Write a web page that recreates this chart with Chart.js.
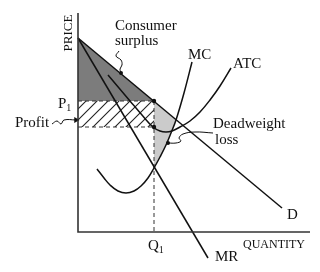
<!DOCTYPE html>
<html><head><meta charset="utf-8">
<script src="https://cdn.jsdelivr.net/npm/chart.js@4.4.1/dist/chart.umd.min.js"></script>
<style>html,body{margin:0;padding:0;background:#fff}canvas{display:block}</style>
</head><body>
<canvas id="c" width="320" height="272"></canvas>
<script>
// ---- data (quantity, price in diagram units) ----
const axisQ = [0, 0, 232];
const axisP = [219, 0, 0];
const demandQ = [0, 204];
const demandP = [194, 24];
const mrQ = [0, 130];
const mrP = [194, -26];
const mcQ = [19, 26, 32, 40, 48, 56, 63, 70, 76, 82, 88, 93, 98, 106, 114];
const mcP = [63, 54, 47, 41, 39, 41, 46, 54, 64, 75, 87, 99, 112, 139, 170];
const atcQ = [30, 41, 52, 64, 75, 82, 88, 94, 102, 112, 122, 132, 142, 153];
const atcP = [157, 144, 131, 117, 105, 101, 100, 101, 105, 111, 120, 132, 146, 164];
const q1 = 76, p1 = 131, atcAtQ1 = 105;
const surplusQ = [0, q1, 0, 0];
const surplusP = [194, p1, p1, 194];
const profitQ = [0, q1, q1, 0, 0];
const profitP = [p1, p1, atcAtQ1, atcAtQ1, p1];
const dwlQ = [q1, 98, 93, 88, 82, q1, q1];
const dwlP = [p1, 112, 99, 87, 75, 64, p1];
// callout leader lines (arrow end first)
const profitLeadQ = [-2, -14, -17, -21, -26];
const profitLeadP = [112, 112, 108, 111, 108];
const csLeadQ = [41, 38, 43, 44, 42, 43];
const csLeadP = [181, 176, 172, 167, 163, 159];
const dwlLeadQ = [135, 117, 105, 101, 103, 98, 90];
const dwlLeadP = [99, 100, 98, 94, 91, 89, 89];
// labels
const labelText = ['Consumer', 'surplus', 'MC', 'ATC', 'Deadweight', 'loss', 'D', 'MR', 'Profit'];
const labelQ = [37, 37, 110, 155, 135, 137, 209, 137, -63];
const labelP = [202, 187, 173, 164, 104, 88, 13, -29, 105];

const pts = (qs, ps) => qs.map((q, i) => ({x: q, y: ps[i]}));

// hatch pattern
const pc = document.createElement('canvas');
pc.width = 11; pc.height = 11;
const g = pc.getContext('2d');
g.strokeStyle = '#222'; g.lineWidth = 1.1;
g.beginPath();
g.moveTo(0, 11); g.lineTo(11, 0);
g.moveTo(-2, 2); g.lineTo(2, -2);
g.moveTo(9, 13); g.lineTo(13, 9);
g.stroke();
const hatch = g.createPattern(pc, 'repeat');

function ds(data, o) {
  return Object.assign({data, showLine: true, borderColor: '#111', borderWidth: 1.5,
    pointRadius: 0, fill: false, tension: 0, clip: false, order: 1}, o);
}
const FONT = '"Liberation Serif", "Times New Roman", serif';

const labelPlugin = {
  id: 'labels',
  afterDraw(chart) {
    const c = chart.ctx, xs = chart.scales.x, ys = chart.scales.y;
    c.save();
    c.fillStyle = '#111';
    c.textBaseline = 'alphabetic';
    c.textAlign = 'left';
    c.font = '15px ' + FONT;
    labelText.forEach((t, i) => c.fillText(t, xs.getPixelForValue(labelQ[i]), ys.getPixelForValue(labelP[i])));
    const sub = (main, s, q, p) => {
      const x = xs.getPixelForValue(q), y = ys.getPixelForValue(p);
      c.font = '15px ' + FONT; c.fillText(main, x, y);
      const w = c.measureText(main).width;
      c.font = '10px ' + FONT; c.fillText(s, x + w, y + 3);
    };
    sub('P', '1', -20, 124);
    sub('Q', '1', 70, -18);
    c.font = '12px ' + FONT;
    c.fillText('QUANTITY', xs.getPixelForValue(165), ys.getPixelForValue(-16));
    c.save();
    c.translate(xs.getPixelForValue(-6), ys.getPixelForValue(199));
    c.rotate(-Math.PI / 2);
    c.textAlign = 'center';
    c.font = '13px ' + FONT;
    c.fillText('PRICE', 0, 0);
    c.restore();
    c.restore();
  }
};

new Chart(document.getElementById('c'), {
  type: 'scatter',
  data: {datasets: [
    ds(pts(surplusQ, surplusP), {borderWidth: 0, fill: 'shape', backgroundColor: '#7c7c7c', order: 10}),
    ds(pts(dwlQ, dwlP), {borderWidth: 0, fill: 'shape', backgroundColor: '#cbcbcb', order: 10}),
    ds(pts(profitQ, profitP), {borderWidth: 0, fill: 'shape', backgroundColor: hatch, order: 10}),
    ds(pts([0, q1], [p1, p1]), {borderWidth: 1, borderDash: [4, 3], borderColor: '#333', order: 5}),
    ds(pts([0, q1], [atcAtQ1, atcAtQ1]), {borderWidth: 1, borderDash: [4, 3], borderColor: '#333', order: 5}),
    ds(pts([q1, q1], [p1, 0]), {borderWidth: 1, borderDash: [4, 3], borderColor: '#333', order: 5}),
    ds(pts(axisQ, axisP), {borderColor: '#333', borderWidth: 1.6}),
    ds(pts(demandQ, demandP)),
    ds(pts(mrQ, mrP)),
    ds(pts(mcQ, mcP), {tension: 0.4}),
    ds(pts(atcQ, atcP), {tension: 0.4}),
    ds(pts(profitLeadQ, profitLeadP), {borderWidth: 1, tension: 0.4,
      pointRadius: [3.5, 0, 0, 0, 0], pointStyle: 'triangle', pointRotation: 90,
      pointBackgroundColor: '#111', pointBorderWidth: 0}),
    ds(pts(csLeadQ, csLeadP), {borderWidth: 1, tension: 0.4,
      pointRadius: [0, 0, 0, 0, 0, 2], pointBackgroundColor: '#111', pointBorderWidth: 0}),
    ds(pts(dwlLeadQ, dwlLeadP), {borderWidth: 1, tension: 0.4,
      pointRadius: [0, 0, 0, 0, 0, 0, 2], pointBackgroundColor: '#111', pointBorderWidth: 0}),
    ds(pts([q1, q1], [p1, atcAtQ1]), {showLine: false, pointRadius: 2.2, pointBackgroundColor: '#111', pointBorderWidth: 0})
  ]},
  options: {
    responsive: false,
    animation: false,
    events: [],
    layout: {padding: {left: 78, right: 10, top: 13, bottom: 10}},
    plugins: {legend: {display: false}, tooltip: {enabled: false}},
    scales: {
      x: {type: 'linear', min: 0, max: 232, display: false},
      y: {type: 'linear', min: -30, max: 219, display: false}
    }
  },
  plugins: [labelPlugin]
});
</script>
</body></html>
